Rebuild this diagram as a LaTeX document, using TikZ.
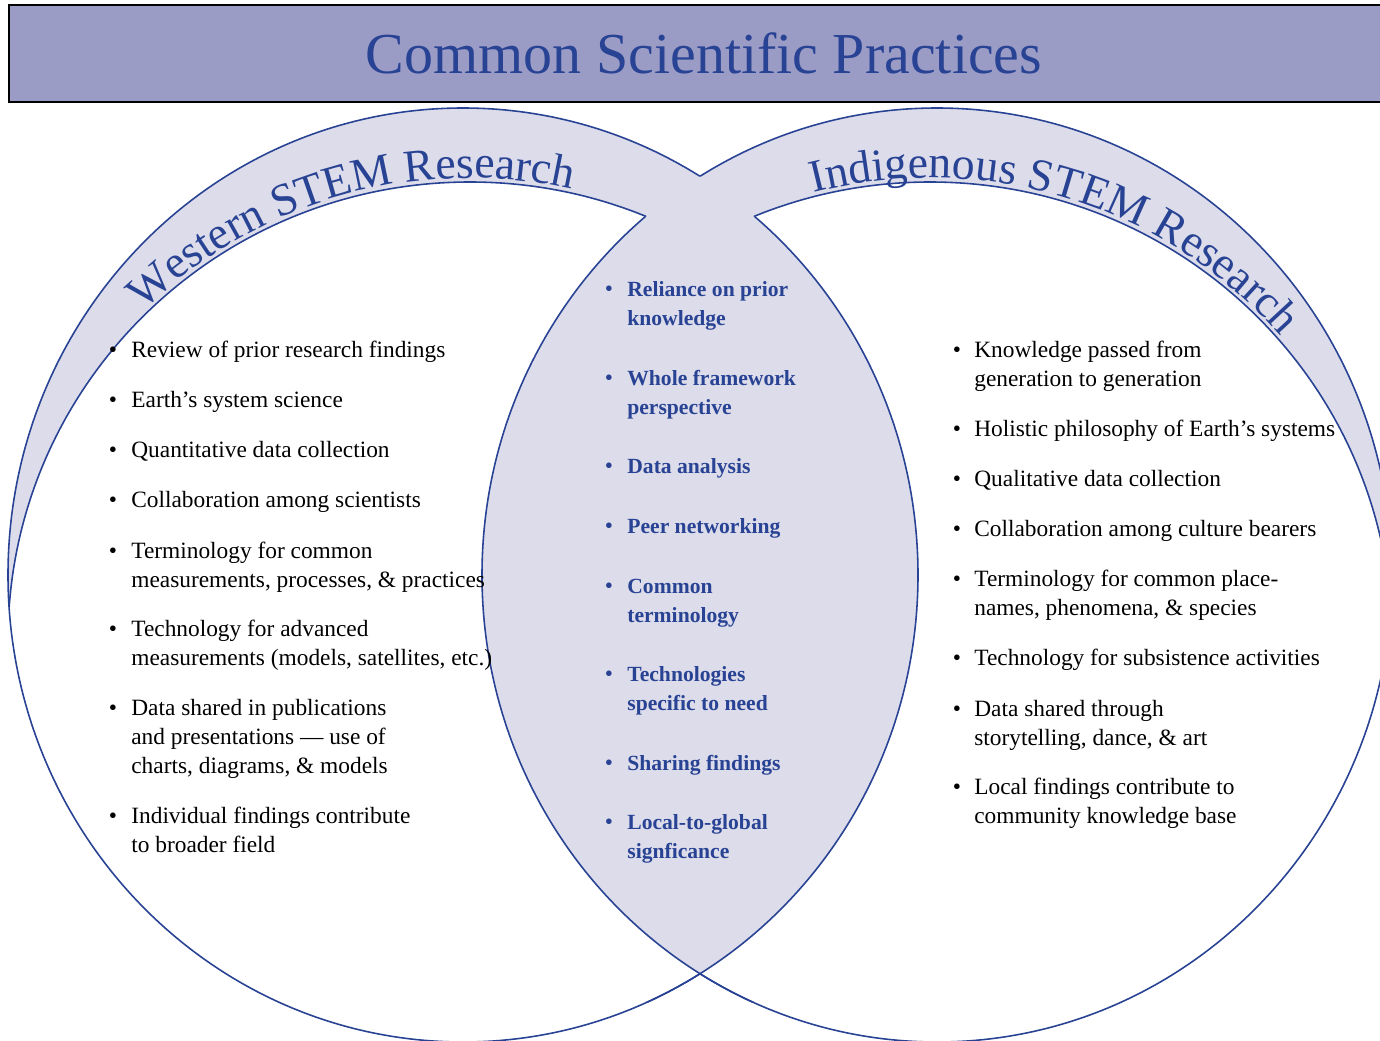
\documentclass[tikz,border=0pt]{standalone}
\usepackage{fontspec}
\setmainfont{Liberation Serif}
\usetikzlibrary{calc,decorations.text}
\definecolor{stemblue}{RGB}{40,66,148}
\definecolor{titlefill}{RGB}{155,156,198}
\definecolor{bandfill}{RGB}{220,220,234}
\newcommand\ringfont{\fontsize{26}{26}\selectfont\color{stemblue}}

\begin{document}
\begin{tikzpicture}[x=0.02cm, y=0.02cm,
    outr/.style={x radius=455, y radius=467},
    inr/.style={x radius=462, y radius=458},
    ring/.style={draw=stemblue, line width=0.9pt},
    listtext/.style={anchor=base west, align=left, inner sep=0pt, font=\fontsize{13.3}{16.4}\selectfont},
    midtext/.style={listtext, text=stemblue, font=\fontsize{12.3}{16.4}\selectfont\bfseries},
    dot/.style={anchor=base, inner sep=0pt, font=\fontsize{13.3}{16.4}\selectfont},
]
    \useasboundingbox (0,0) rectangle (1380,-1041);

    % centres of the two rings and of their inner edges
    \coordinate (wout) at (463,-575);
    \coordinate (eout) at (937,-575);
    \coordinate (win) at (470,-640);
    \coordinate (ein) at (930,-640);

    \begin{scope}
    \clip (0,0) rectangle (1380,-1041);

    % Title bar
    \draw[line width=1.2pt, fill=titlefill] (9,-5) rectangle (1400,-102);
    \node[font=\fontsize{33}{33}\selectfont, text=stemblue, anchor=base] (title) at (704,-73) {Common Scientific Practices};

    % Bands and overlap
    \fill[bandfill] (wout) ellipse[outr] (eout) ellipse[outr];
    \begin{scope}
        \clip (wout) ellipse[outr];
        \clip (win) ellipse[inr];
        \fill[white, even odd rule] (-10,10) rectangle (1400,-1060) (eout) ellipse[outr];
    \end{scope}
    \begin{scope}
        \clip (eout) ellipse[outr];
        \clip (ein) ellipse[inr];
        \fill[white, even odd rule] (-10,10) rectangle (1400,-1060) (wout) ellipse[outr];
    \end{scope}

    % Outlines
    \begin{scope}[even odd rule]
        \clip (-10,10) rectangle (1400,-1060) (eout) ellipse[outr];
        \draw[ring] (wout) ellipse[outr];
    \end{scope}
    \begin{scope}
        \clip (ein) ellipse[inr];
        \draw[ring] (wout) ellipse[outr];
    \end{scope}
    \begin{scope}[even odd rule]
        \clip (-10,10) rectangle (1400,-1060) (wout) ellipse[outr];
        \draw[ring] (eout) ellipse[outr];
    \end{scope}
    \begin{scope}
        \clip (win) ellipse[inr];
        \draw[ring] (eout) ellipse[outr];
    \end{scope}
    \begin{scope}[even odd rule]
        \clip (wout) ellipse[outr];
        \clip (-10,10) rectangle (1400,-1060) (eout) ellipse[outr];
        \draw[ring] (win) ellipse[inr];
    \end{scope}
    \begin{scope}[even odd rule]
        \clip (eout) ellipse[outr];
        \clip (-10,10) rectangle (1400,-1060) (wout) ellipse[outr];
        \draw[ring] (ein) ellipse[inr];
    \end{scope}
    \end{scope}

    % Ring labels
    \path[decorate, decoration={text along path, text align=left,
        text={|\ringfont|Western STEM Research}}]
        ([shift={(134.5:466 and 462)}]win) arc[start angle=134.5, end angle=40, x radius=466, y radius=462];
    \path[decorate, decoration={text along path, text align=left,
        text={|\ringfont|Indigenous STEM Research}}]
        ([shift={(104.5:466 and 462)}]ein) arc[start angle=104.5, end angle=10, x radius=466, y radius=462];

    % Lists: first baseline / number of lines / text (base anchor sits on the last line)
    \foreach \y/\n/\txt [count=\i] in {
        357/1/{Review of prior research findings},
        407/1/{Earth's system science},
        457/1/{Quantitative data collection},
        507/1/{Collaboration among scientists},
        558/2/{Terminology for common\\measurements, processes, \& practices},
        636/2/{Technology for advanced\\measurements (models, satellites, etc.)},
        715/3/{Data shared in publications\\and presentations --- use of\\charts, diagrams, \& models},
        823/2/{Individual findings contribute\\to broader field}} {
        \node[listtext] (w\i) at (131,-\y-29*\n+29) {\txt};
        \node[dot] (wd\i) at (113,-\y) {\textbullet};
    }

    \foreach \y/\n/\txt [count=\i] in {
        296/2/{Reliance on prior\\knowledge},
        385/2/{Whole framework\\perspective},
        473/1/{Data analysis},
        533/1/{Peer networking},
        593/2/{Common\\terminology},
        681/2/{Technologies\\specific to need},
        770/1/{Sharing findings},
        829/2/{Local-to-global\\signficance}} {
        \node[midtext] (m\i) at (627,-\y-29*\n+29) {\txt};
        \node[dot, text=stemblue] (md\i) at (609,-\y) {\textbullet};
    }

    \foreach \y/\n/\txt [count=\i] in {
        357/2/{Knowledge passed from\\generation to generation},
        436/1/{Holistic philosophy of Earth's systems},
        486/1/{Qualitative data collection},
        536/1/{Collaboration among culture bearers},
        586/2/{Terminology for common place-\\names, phenomena, \& species},
        665/1/{Technology for subsistence activities},
        716/2/{Data shared through\\storytelling, dance, \& art},
        794/2/{Local findings contribute to\\community knowledge base}} {
        \node[listtext] (e\i) at (974,-\y-29*\n+29) {\txt};
        \node[dot] (ed\i) at (957,-\y) {\textbullet};
    }
\end{tikzpicture}
\end{document}
